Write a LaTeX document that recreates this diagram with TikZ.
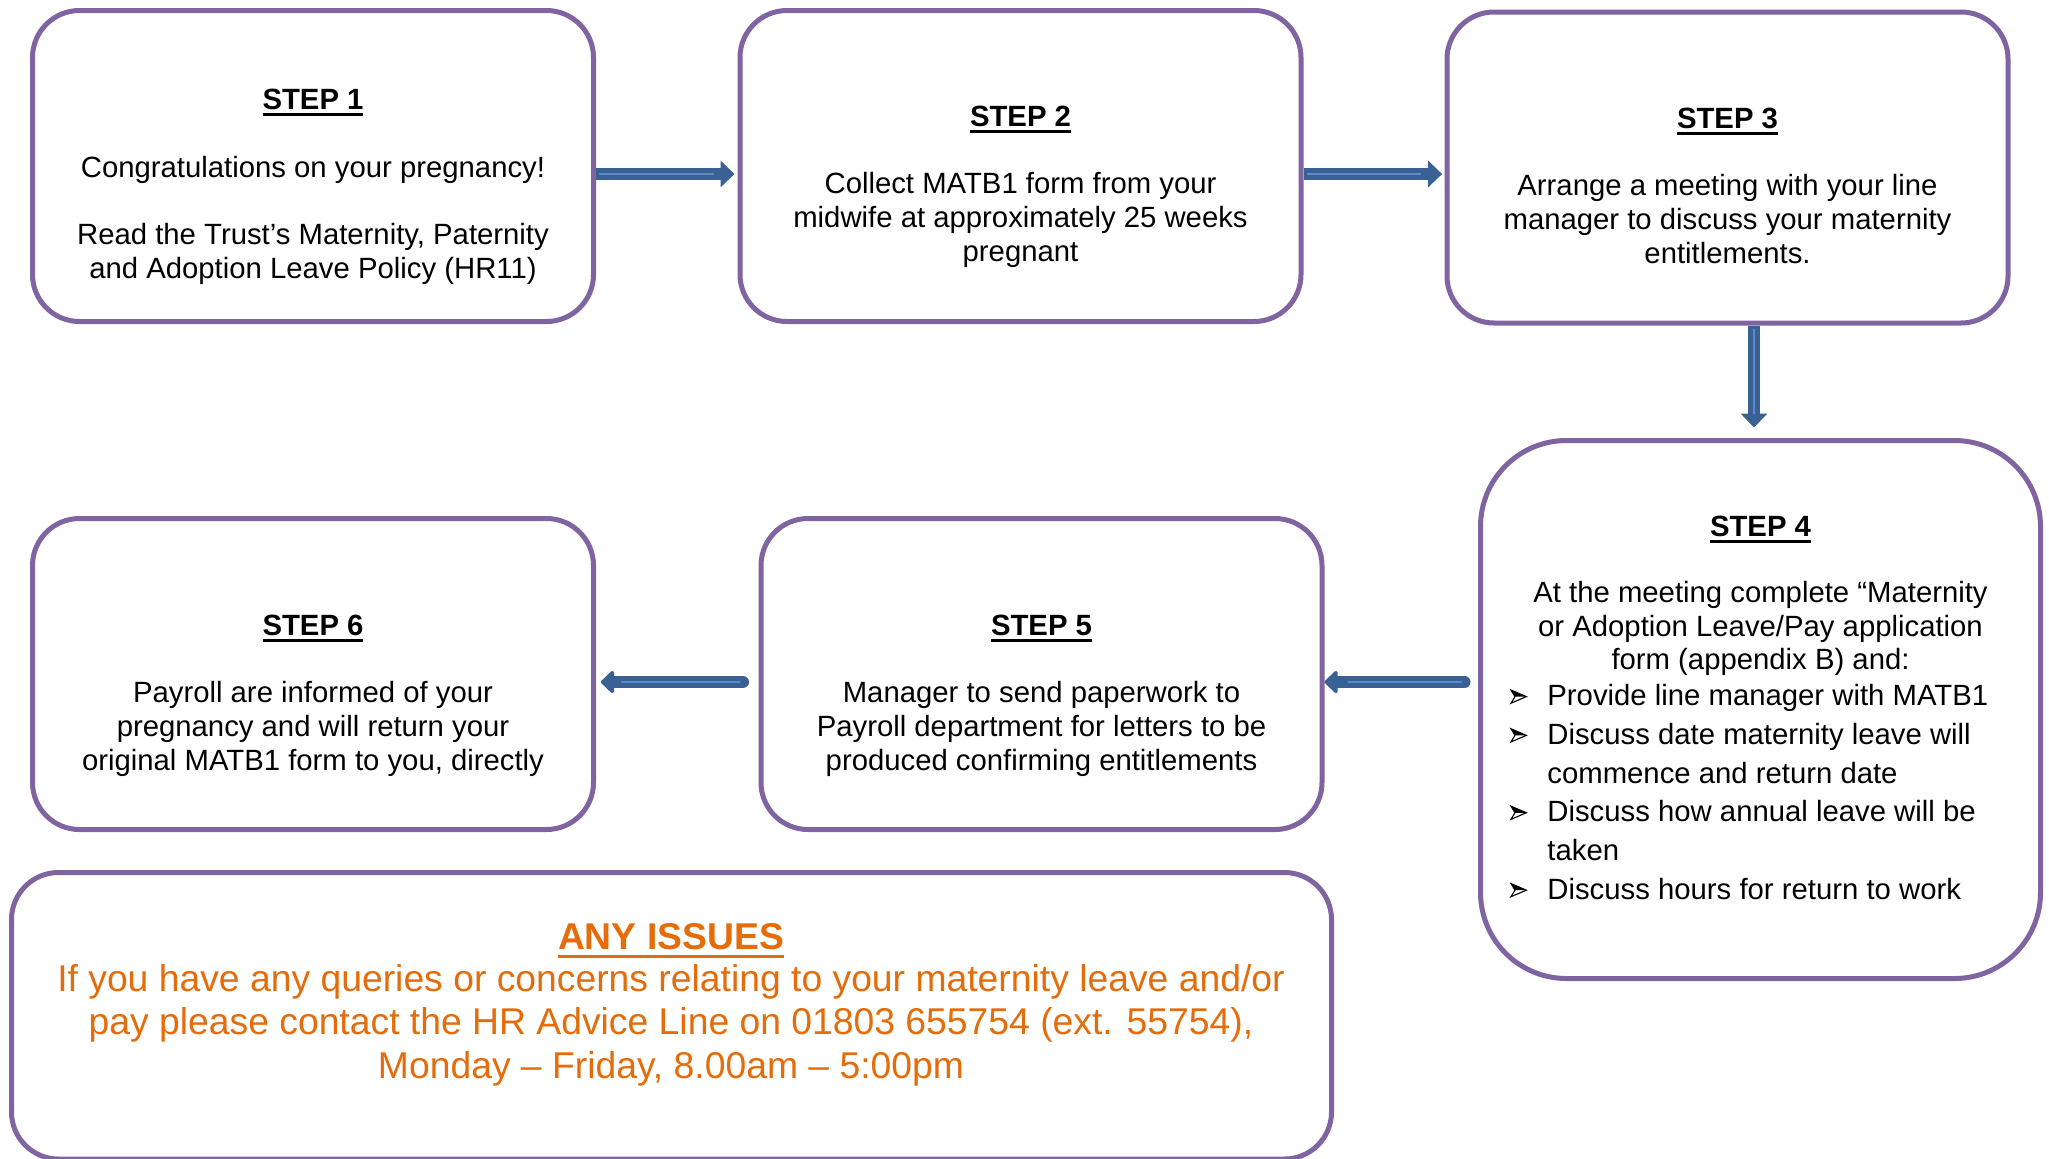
\documentclass[tikz,border=0pt]{standalone}
\usepackage{fontspec}
\setmainfont{Liberation Sans}
\usetikzlibrary{arrows.meta,calc}

\definecolor{boxpurple}{HTML}{8064A2}
\definecolor{arrowblue}{HTML}{3A6194}
\definecolor{arrowlight}{HTML}{5B8BC8}
\definecolor{issueorange}{HTML}{E46C0A}

% bold heading with a heavy underline
\newsavebox\ulbox
\newcommand\ulbf[2][-3.3pt]{\sbox\ulbox{\bfseries #2}\rlap{\rule[#1]{\wd\ulbox}{1.65pt}}\usebox\ulbox}
% arrowhead bullet
\newcommand\bul{\makebox[18.5pt][l]{\tikz[x=1pt,y=1pt,baseline=0pt]{%
  \draw[line width=0.55pt, line join=miter, fill=white] (0,1.2) -- (7.7,4.5) -- (0,7.8) -- (2,4.5) -- cycle;
  \fill[black] (0,7.8) -- (7.7,4.5) -- (2,4.5) -- cycle;}}}
\newcommand\hang{\hspace*{18.5pt}}

\tikzset{
  stepbox/.style={draw=boxpurple, line width=2.5pt, rounded corners=23.5pt,
    minimum width=280.5pt, minimum height=155.5pt, inner sep=0pt},
  steptext/.style={anchor=north, align=center, inner sep=0pt,
    font=\fontsize{14.65pt}{16.8pt}\selectfont},
  shine/.style={draw=arrowlight, line width=1.3pt, -, shorten >=12pt, shorten <=1.5pt},
  flow/.style={draw=arrowblue, line width=6pt, -{Triangle[length=7pt,width=13pt]},
    postaction={shine}},
  flowround/.style={flow, line cap=round, line join=round,
    -{Triangle[length=7pt,width=13pt,round]}}
}

\begin{document}
\begin{tikzpicture}[x=0.5pt,y=-0.5pt]
\useasboundingbox (0,0) rectangle (2049,1158);

% boxes
\node[stepbox] (s1) at (313,166) {};
\node[stepbox] (s2) at (1020.5,166) {};
\node[stepbox] (s3) at (1727.5,167.5) {};
\node[stepbox, rounded corners=43pt, minimum width=280pt, minimum height=269pt] (s4) at (1760.5,709.5) {};
\node[stepbox] (s5) at (1041.5,674) {};
\node[stepbox] (s6) at (313,674) {};
\node[stepbox, minimum width=660pt, minimum height=143.25pt] (issues) at (671.5,1015.75) {};

% texts
\node[steptext] (t1) at (313,88.5) {\ulbf{STEP 1}\\[17.5pt]Congratulations on your pregnancy!\\[16.5pt]Read the Trust’s Maternity, Paternity\\and Adoption Leave Policy (HR11)};
\node[steptext] (t2) at (1020.5,106) {\ulbf{STEP 2}\\[16.7pt]Collect MATB1 form from your\\midwife at approximately 25 weeks\\pregnant};
\node[steptext] (t3) at (1727.5,108) {\ulbf{STEP 3}\\[16.7pt]Arrange a meeting with your line\\manager to discuss your maternity\\entitlements.};
\node[steptext] (t4) at (1760.5,516) {\ulbf{STEP 4}\\[16pt]At the meeting complete “Maternity\\or Adoption Leave/Pay application\\form (appendix B) and:};
\node[steptext, anchor=north west, align=left, font=\fontsize{14.65pt}{19.35pt}\selectfont] (t4list) at (1510,684)
  {\bul Provide line manager with MATB1\\\bul Discuss date maternity leave will\\\hang commence and return date\\\bul Discuss how annual leave will be\\\hang taken\\\bul Discuss hours for return to work};
\node[steptext] (t5) at (1041.5,615) {\ulbf{STEP 5}\\[16.7pt]Manager to send paperwork to\\Payroll department for letters to be\\produced confirming entitlements};
\node[steptext] (t6) at (313,615) {\ulbf{STEP 6}\\[16.7pt]Payroll are informed of your\\pregnancy and will return your\\original MATB1 form to you, directly};
\node[steptext, text=issueorange, font=\fontsize{18.65pt}{21.65pt}\selectfont] (t7) at (671,922.6)
  {\ulbf[-4.65pt]{ANY ISSUES}\\[-0.4pt]If you have any queries or concerns relating to your maternity leave and/or\\pay please contact the HR Advice Line on 01803 655754 (ext. 55754),\\Monday – Friday, 8.00am – 5:00pm};

% connectors
\draw[flow, shorten >=1.5pt] ([yshift=-4pt]s1.east) -- ([yshift=-4pt]s1.east -| s2.west);
\draw[flow, shorten >=1.2pt] ([yshift=-4pt]s2.east) -- ([yshift=-4pt]s2.east -| s3.west);
\draw[flow, shorten >=5.25pt] ([xshift=13.25pt]s3.south) -- ([xshift=13.25pt]s3.south |- s4.north);
\draw[flowround, shine/.append style={shorten <=8.5pt}, shorten <=6.75pt] ([yshift=-4pt]s5.east -| s4.west) -- ([yshift=-4pt]s5.east);
\draw[flowround, shine/.append style={shorten <=9.5pt, shorten >=13pt}, shorten <=7.75pt, shorten >=2.45pt] ([yshift=-4pt]s5.west) -- ([yshift=-4pt]s5.west -| s6.east);
\end{tikzpicture}
\end{document}
